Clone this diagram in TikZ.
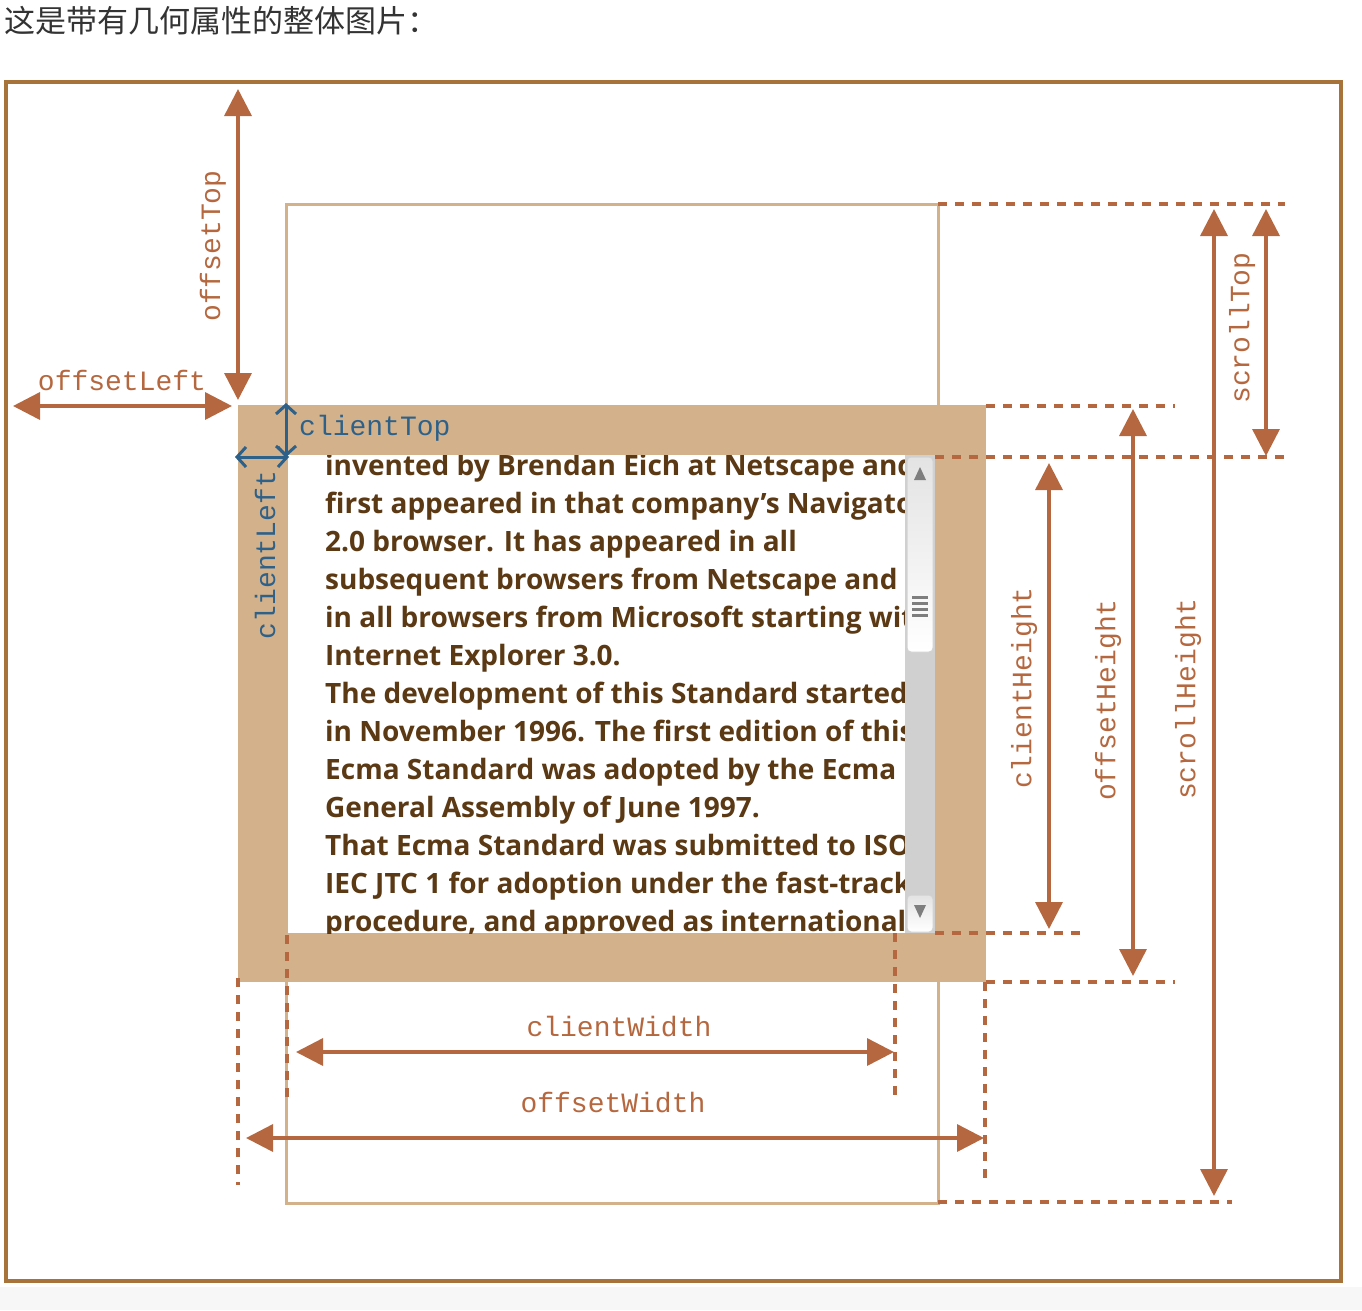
\documentclass[tikz,border=0pt]{standalone}
\usepackage{fontspec}
\setmainfont{Open Sans}
\setmonofont{Liberation Mono}
\newfontfamily\cjk{Noto Sans CJK SC}
\usetikzlibrary{arrows.meta}

\definecolor{frame}{HTML}{A8733A}
\definecolor{tan}{HTML}{D3B18B}
\definecolor{rust}{HTML}{B5683F}
\definecolor{steel}{HTML}{2E6189}
\definecolor{ink}{HTML}{5A3914}
\definecolor{track}{HTML}{D0D0D0}
\definecolor{grip}{HTML}{7E7E7E}

\tikzset{
    measure/.style={draw=rust, line width=3.5pt,
        {Triangle[length=27pt,width=27pt]}-{Triangle[length=27pt,width=27pt]}},
    border/.style={draw=steel, line width=3pt,
        {Straight Barb[length=9pt,width=20pt]}-{Straight Barb[length=9pt,width=20pt]}},
    guide/.style={draw=rust, line width=3.5pt, dash pattern=on 9pt off 8pt},
    prop/.style={text=rust, inner sep=0pt, font=\fontsize{28}{30}\selectfont\ttfamily},
    bprop/.style={prop, text=steel},
    textline/.style={text=ink, inner sep=0pt, anchor=base west,
        font=\fontsize{28}{38}\selectfont\bfseries},
}

\begin{document}
\begin{tikzpicture}[x=1pt,y=-1pt]
\useasboundingbox (0,0) rectangle (1362,1310);
\fill[black!3] (0,1287) rectangle (1362,1310);

\node[anchor=base west, inner sep=0pt, text=black!80,
    font=\fontsize{31}{34}\selectfont\cjk] (title) at (4,32) {这是带有几何属性的整体图片：};

% boxes
\draw[frame, line width=3.5pt] (6,82) rectangle (1341,1281);
\draw[tan, line width=3pt] (286,204) rectangle (938,1203);
\fill[tan] (238,405) rectangle (986,982);
\fill[white] (288,455) rectangle (935,933);

% content
\begin{scope}
\clip (288,455) rectangle (905,933);
\foreach \i/\t in {0/{invented by Brendan Eich at Netscape and},
    1/{first appeared in that company’s Navigator},
    2/{2.0 browser. It has appeared in all},
    3/{subsequent browsers from Netscape and},
    4/{in all browsers from Microsoft starting with},
    5/{Internet Explorer 3.0.},
    6/{The development of this Standard started},
    7/{in November 1996. The first edition of this},
    8/{Ecma Standard was adopted by the Ecma},
    9/{General Assembly of June 1997.},
    10/{That Ecma Standard was submitted to ISO/},
    11/{IEC JTC 1 for adoption under the fast-track},
    12/{procedure, and approved as international}}
    \node[textline] (line\i) at (325,475+38*\i) {\t};
\end{scope}

% scrollbar
\fill[track] (905,455) rectangle (935,933);
\draw[gray!35, line width=1pt, rounded corners=4pt, top color=gray!22, bottom color=white]
    (907,457) rectangle (933,652);
\draw[gray!35, line width=1pt, rounded corners=4pt, top color=gray!22, bottom color=white]
    (907,895) rectangle (933,932);
\fill[grip] (920,467) -- (926,480) -- (914,480) -- cycle;
\fill[grip] (920,918) -- (926,905) -- (914,905) -- cycle;
\foreach \g in {597,603,609,615}
    \draw[grip, line width=3pt] (912,\g) -- (928,\g);

% guides
\draw[guide] (938,204) -- (1285,204);
\draw[guide] (986,406) -- (1175,406);
\draw[guide] (935,457) -- (1285,457);
\draw[guide] (935,933) -- (1085,933);
\draw[guide] (986,982) -- (1175,982);
\draw[guide] (938,1202) -- (1232,1202);
\draw[guide] (238,978) -- (238,1185);
\draw[guide] (287,935) -- (287,1102);
\draw[guide] (895,933) -- (895,1100);
\draw[guide] (985,982) -- (985,1185);

% end points
\coordinate (oTtop) at (238,89);
\coordinate (oTbot) at (238,400);
\coordinate (oLl) at (13,406);
\coordinate (oLr) at (232,406);
\coordinate (cTtop) at (286,403);
\coordinate (cTbot) at (286,457);
\coordinate (cLl) at (235,457);
\coordinate (cLr) at (289,457);
\coordinate (cHtop) at (1049,463);
\coordinate (cHbot) at (1049,929);
\coordinate (oHtop) at (1133,409);
\coordinate (oHbot) at (1133,976);
\coordinate (sHtop) at (1214,209);
\coordinate (sHbot) at (1214,1196);
\coordinate (sTtop) at (1266,209);
\coordinate (sTbot) at (1266,456);
\coordinate (cWl) at (296,1052);
\coordinate (cWr) at (894,1052);
\coordinate (oWl) at (246,1138);
\coordinate (oWr) at (984,1138);

\draw[measure] (oTtop) -- (oTbot);
\draw[measure] (oLl) -- (oLr);
\draw[measure] (cHtop) -- (cHbot);
\draw[measure] (oHtop) -- (oHbot);
\draw[measure] (sHtop) -- (sHbot);
\draw[measure] (sTtop) -- (sTbot);
\draw[measure] (cWl) -- (cWr);
\draw[measure] (oWl) -- (oWr);
\draw[border] (cTtop) -- (cTbot);
\draw[border] (cLl) -- (cLr);

% labels
\node[prop, rotate=90] (offsetTop) at (213,246) {offsetTop};
\node[prop] (offsetLeft) at (122,380) {offsetLeft};
\node[bprop, anchor=west] (clientTop) at (299,428) {clientTop};
\node[bprop, rotate=90] (clientLeft) at (265,555) {clientLeft};
\node[prop, rotate=90] (clientHeight) at (1024,688) {clientHeight};
\node[prop, rotate=90] (offsetHeight) at (1108,700) {offsetHeight};
\node[prop, rotate=90] (scrollHeight) at (1188,699) {scrollHeight};
\node[prop, rotate=90] (scrollTop) at (1242,328) {scrollTop};
\node[prop] (clientWidth) at (619,1027) {clientWidth};
\node[prop] (offsetWidth) at (613,1103) {offsetWidth};
\end{tikzpicture}
\end{document}
